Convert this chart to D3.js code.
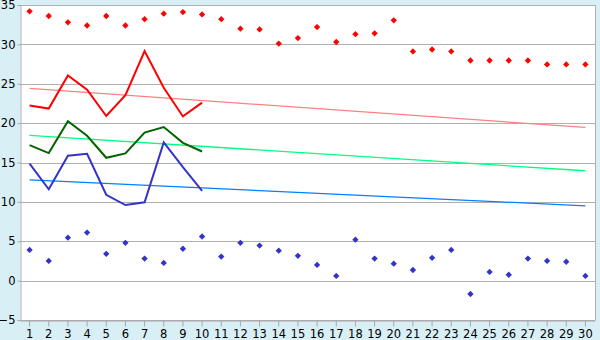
<!DOCTYPE html>
<html lang="en">
  <head>
    <meta charset="UTF-8" />
    <title>daily temperatures</title>
    <style>
      body {
        margin: 0;
        background: #d9eff6;
        overflow: hidden;
      }
      .tick text {
        font-family: "DejaVu Sans", Verdana, sans-serif;
        font-size: 11.5px;
        fill: #000;
      }
      .grid line {
        stroke: #b0b0b0;
      }
    </style>
  </head>
  <body>
    <svg id="chart" width="600" height="340"></svg>
    <script src="https://d3js.org/d3.v7.min.js"></script>
    <script>
      const days = d3.range(1, 31);
      const yTicks = [-5, 0, 5, 10, 15, 20, 25, 30, 35];

      const highPoints = [34.2, 33.6, 32.8, 32.4, 33.6, 32.4, 33.2, 33.9, 34.1, 33.8,
        33.2, 32.0, 31.9, 30.1, 30.8, 32.2, 30.3, 31.3, 31.4, 33.05,
        29.1, 29.35, 29.1, 27.95, 27.95, 27.95, 27.95, 27.45, 27.45, 27.45];
      const lowPoints = [3.9, 2.5, 5.45, 6.1, 3.4, 4.8, 2.8, 2.25, 4.05, 5.6,
        3.05, 4.8, 4.45, 3.8, 3.15, 2.0, 0.6, 5.2, 2.8, 2.15,
        1.35, 2.9, 3.9, -1.7, 1.1, 0.75, 2.8, 2.5, 2.4, 0.6];

      const redLine = [22.25, 21.85, 26.05, 24.25, 20.9, 23.55, 29.15, 24.5, 20.85, 22.6];
      const greenLine = [17.2, 16.2, 20.25, 18.4, 15.6, 16.15, 18.8, 19.5, 17.5, 16.4];
      const blueLine = [14.85, 11.6, 15.85, 16.1, 10.9, 9.6, 9.95, 17.55, 14.4, 11.4];

      // trend lines: value at day 1 and at day 30
      const redTrend = [24.4, 19.45];
      const greenTrend = [18.45, 13.95];
      const blueTrend = [12.8, 9.5];

      const plotLeft = 20, plotRight = 595, plotTop = 5, plotBottom = 320;

      const svg = d3.select('#chart');

      const x = d3.scaleBand()
        .domain(days)
        .range([plotLeft, plotRight]);

      const y = d3.scaleLinear()
        .domain([-5, 35])
        .range([plotBottom, plotTop]);

      const cx = d => x(d) + x.bandwidth() / 2;

      svg.append('rect')
        .attr('x', plotLeft)
        .attr('y', plotTop)
        .attr('width', plotRight - plotLeft)
        .attr('height', plotBottom - plotTop)
        .attr('fill', '#fff');

      svg.append('g')
        .attr('class', 'grid')
        .selectAll('line')
        .data(yTicks)
        .join('line')
        .attr('x1', plotLeft)
        .attr('x2', plotRight)
        .attr('y1', d => Math.round(y(d)) + 0.5)
        .attr('y2', d => Math.round(y(d)) + 0.5);

      // frame
      svg.append('line')
        .attr('x1', plotRight + 0.5).attr('x2', plotRight + 0.5)
        .attr('y1', plotTop).attr('y2', plotBottom)
        .attr('stroke', '#b0b0b0');

      const yAxis = svg.append('g')
        .attr('transform', `translate(${plotLeft + 0.5},0)`)
        .call(d3.axisLeft(y).tickValues(yTicks).tickSize(3).tickPadding(2).tickFormat(d3.format('d')));
      yAxis.select('.domain').attr('stroke', '#a8a8a8');
      yAxis.selectAll('.tick line').attr('stroke', '#a8a8a8');

      const xAxis = svg.append('g')
        .attr('transform', `translate(0,${plotBottom + 0.5})`)
        .call(d3.axisBottom(x).tickSize(6).tickPadding(3).tickSizeOuter(0));
      xAxis.select('.domain').attr('stroke', '#a8a8a8');
      xAxis.selectAll('.tick line').attr('stroke', '#a8a8a8');

      // trend lines
      const trends = [
        { v: redTrend, color: '#ff8080' },
        { v: greenTrend, color: '#00ff80' },
        { v: blueTrend, color: '#0080ff' }
      ];
      trends.forEach(t => {
        svg.append('line')
          .attr('x1', cx(1))
          .attr('x2', cx(30))
          .attr('y1', y(t.v[0]))
          .attr('y2', y(t.v[1]))
          .attr('stroke', t.color)
          .attr('stroke-width', 1.3);
      });

      const line = d3.line()
        .x((d, i) => cx(days[i]))
        .y(d => y(d));

      const series = [
        { v: redLine, color: '#ff0000' },
        { v: greenLine, color: '#006400' },
        { v: blueLine, color: '#3333cc' }
      ];
      series.forEach(s => {
        svg.append('path')
          .datum(s.v)
          .attr('d', line)
          .attr('fill', 'none')
          .attr('stroke', s.color)
          .attr('stroke-width', 2);
      });

      // small diamonds (square turned 45deg)
      const marker = d3.symbol().type(d3.symbolSquare).size(20);

      svg.append('g')
        .selectAll('path')
        .data(highPoints)
        .join('path')
        .attr('d', marker)
        .attr('transform', (d, i) => `translate(${cx(days[i])},${y(d)}) rotate(45)`)
        .attr('fill', '#ff0000');

      svg.append('g')
        .selectAll('path')
        .data(lowPoints)
        .join('path')
        .attr('d', marker)
        .attr('transform', (d, i) => `translate(${cx(days[i])},${y(d)}) rotate(45)`)
        .attr('fill', '#3333cc');
    </script>
  </body>
</html>
